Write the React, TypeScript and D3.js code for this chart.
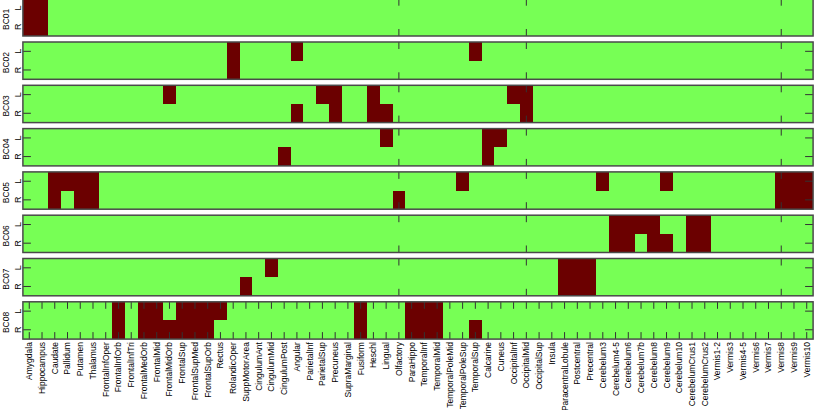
import * as d3 from "d3";
import React, { useEffect, useRef } from "react";

const regions = [
  "Amygdala", "Hippocampus", "Caudate", "Pallidum", "Putamen", "Thalamus",
  "FrontalInfOper", "FrontalInfOrb", "FrontalInfTri", "FrontalMedOrb", "FrontalMid",
  "FrontalMidOrb", "FrontalSup", "FrontalSupMed", "FrontalSupOrb", "Rectus",
  "RolandicOper", "SuppMotorArea", "CingulumAnt", "CingulumMid", "CingulumPost",
  "Angular", "ParietalInf", "ParietalSup", "Precuneus", "SupraMarginal", "Fusiform",
  "Heschl", "Lingual", "Olfactory", "ParaHippo", "TemporalInf", "TemporalMid",
  "TemporalPoleMid", "TemporalPoleSup", "TemporalSup", "Calcarine", "Cuneus",
  "OccipitalInf", "OccipitalMid", "OccipitalSup", "Insula", "ParacentralLobule",
  "Postcentral", "Precentral", "Cerebelum3", "Cerebelum4-5", "Cerebelum6",
  "Cerebelum7b", "Cerebelum8", "Cerebelum9", "Cerebelum10", "CerebelumCrus1",
  "CerebelumCrus2", "Vermis1-2", "Vermis3", "Vermis4-5", "Vermis6", "Vermis7",
  "Vermis8", "Vermis9", "Vermis10",
];

const subjects = ["BC01", "BC02", "BC03", "BC04", "BC05", "BC06", "BC07", "BC08"];
const sides = ["L", "R"];

// regions marked (dark red) per subject and hemisphere
const bc01L = ["Amygdala", "Hippocampus"];
const bc01R = ["Amygdala", "Hippocampus"];
const bc02L = ["RolandicOper", "Angular", "TemporalSup"];
const bc02R = ["RolandicOper"];
const bc03L = ["FrontalMidOrb", "ParietalSup", "Precuneus", "Heschl", "OccipitalInf", "OccipitalMid"];
const bc03R = ["Angular", "Precuneus", "Heschl", "Lingual", "OccipitalMid"];
const bc04L = ["Lingual", "Calcarine", "Cuneus"];
const bc04R = ["CingulumPost", "Calcarine"];
const bc05L = ["Caudate", "Pallidum", "Putamen", "Thalamus", "TemporalPoleSup", "Cerebelum3", "Cerebelum9", "Vermis8", "Vermis9", "Vermis10"];
const bc05R = ["Caudate", "Putamen", "Thalamus", "Olfactory", "Vermis8", "Vermis9", "Vermis10"];
const bc06L = ["Cerebelum4-5", "Cerebelum6", "Cerebelum7b", "Cerebelum8", "CerebelumCrus1", "CerebelumCrus2"];
const bc06R = ["Cerebelum4-5", "Cerebelum6", "Cerebelum8", "Cerebelum9", "CerebelumCrus1", "CerebelumCrus2"];
const bc07L = ["CingulumMid", "ParacentralLobule", "Postcentral", "Precentral"];
const bc07R = ["SuppMotorArea", "ParacentralLobule", "Postcentral", "Precentral"];
const bc08L = ["FrontalInfOrb", "FrontalMedOrb", "FrontalMid", "FrontalSup", "FrontalSupMed", "FrontalSupOrb", "Rectus", "Fusiform", "ParaHippo", "TemporalInf", "TemporalMid"];
const bc08R = ["FrontalInfOrb", "FrontalMedOrb", "FrontalMid", "FrontalMidOrb", "FrontalSup", "FrontalSupMed", "FrontalSupOrb", "Fusiform", "ParaHippo", "TemporalInf", "TemporalMid", "TemporalSup"];

const marked: Record<string, string[][]> = {
  BC01: [bc01L, bc01R],
  BC02: [bc02L, bc02R],
  BC03: [bc03L, bc03R],
  BC04: [bc04L, bc04R],
  BC05: [bc05L, bc05R],
  BC06: [bc06L, bc06R],
  BC07: [bc07L, bc07R],
  BC08: [bc08L, bc08R],
};

// the few x ticks shown on the upper panels
const sparseTicks = ["Olfactory", "OccipitalMid", "Vermis8"];

const GREEN = "#77ff55";
const RED = "#6b0000";
const FONT = "'Liberation Sans', Arial, sans-serif";

const App = () => {
  const ref = useRef<SVGSVGElement | null>(null);

  useEffect(() => {
    const width = 814;
    const height = 410;
    const svg = d3.select(ref.current);
    svg.selectAll("*").remove();
    svg.attr("width", width).attr("height", height);

    const x = d3.scaleBand().domain(regions).range([22.9, 813.1]).padding(0);
    const panel = d3
      .scaleBand()
      .domain(subjects)
      .range([-1.3, 339.1])
      .paddingInner(0.1386)
      .paddingOuter(0);
    const row = d3.scaleBand().domain(sides).range([0, panel.bandwidth()]);

    subjects.forEach((s, si) => {
      const top = panel(s)!;
      const g = svg.append("g").attr("transform", `translate(0,${top})`);

      g.append("rect")
        .attr("x", x.range()[0])
        .attr("y", 0)
        .attr("width", x.range()[1] - x.range()[0])
        .attr("height", panel.bandwidth())
        .attr("fill", GREEN);

      sides.forEach((side, k) => {
        g.selectAll(null)
          .data(marked[s][k])
          .enter()
          .append("rect")
          .attr("x", (d) => x(d)!)
          .attr("y", row(side)!)
          .attr("width", x.bandwidth())
          .attr("height", row.bandwidth())
          .attr("fill", RED)
          .attr("shape-rendering", "crispEdges");
      });

      // x ticks (inward, top and bottom)
      const tickNames = s === "BC08" ? regions : sparseTicks;
      const tl = 7;
      g.selectAll(null)
        .data(tickNames)
        .enter()
        .append("path")
        .attr("d", (d) => {
          const cx = x(d)! + x.bandwidth() / 2;
          const b = panel.bandwidth();
          return `M${cx},0V${tl}M${cx},${b}V${b - tl}`;
        })
        .attr("stroke", "#333")
        .attr("stroke-width", 1);

      // y ticks (inward, left and right)
      if (si > 0) {
        g.selectAll(null)
          .data(sides)
          .enter()
          .append("path")
          .attr("d", (d) => {
            const cy = row(d)! + row.bandwidth() / 2;
            const [x0, x1] = x.range();
            return `M${x0},${cy}H${x0 + 8}M${x1},${cy}H${x1 - 8}`;
          })
          .attr("stroke", "#333")
          .attr("stroke-width", 1);
      }

      g.append("rect")
        .attr("x", x.range()[0])
        .attr("y", 0)
        .attr("width", x.range()[1] - x.range()[0])
        .attr("height", panel.bandwidth())
        .attr("fill", "none")
        .attr("stroke", "#4a4a4a")
        .attr("stroke-width", 1.5);

      // y tick labels
      g.selectAll(null)
        .data(sides)
        .enter()
        .append("text")
        .attr("transform", (d) => `translate(20.5,${row(d)! + row.bandwidth() / 2}) rotate(-90)`)
        .attr("text-anchor", "middle")
        .attr("font-family", FONT)
        .attr("font-size", 9)
        .attr("fill", "#000")
        .text((d) => d);

      // subject label
      g.append("text")
        .attr("transform", `translate(8.5,${panel.bandwidth() / 2 + 2}) rotate(-90)`)
        .attr("text-anchor", "middle")
        .attr("font-family", FONT)
        .attr("font-size", 8.5)
        .attr("fill", "#000")
        .text(s);
    });

    // region labels under the last panel
    const bottom = panel(subjects[subjects.length - 1])! + panel.bandwidth();
    svg
      .append("g")
      .selectAll("text")
      .data(regions)
      .enter()
      .append("text")
      .attr("transform", (d) => `translate(${x(d)! + x.bandwidth() / 2},${bottom + 3}) rotate(-90)`)
      .attr("text-anchor", "end")
      .attr("dy", "0.35em")
      .attr("font-family", FONT)
      .attr("font-size", 8.5)
      .attr("fill", "#000")
      .text((d) => d);
  }, []);

  return <svg ref={ref} style={{ position: "absolute", left: 0, top: 0, display: "block" }} />;
};

export default App;
